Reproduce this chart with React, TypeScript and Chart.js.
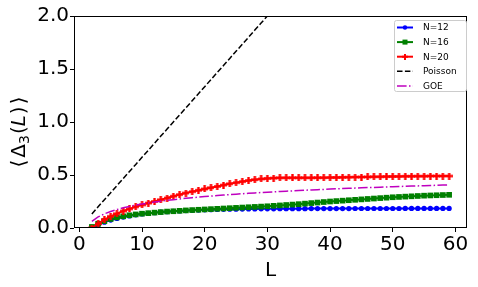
import React, { useEffect, useRef } from 'react';
import { Chart, registerables } from 'chart.js';
Chart.register(...registerables);

const L_VALUES = [2,3,4,5,6,7,8,9,10,11,12,13,14,15,16,17,18,19,20,21,22,23,24,25,26,27,28,29,30,31,32,33,34,35,36,37,38,39,40,41,42,43,44,45,46,47,48,49,50,51,52,53,54,55,56,57,58,59];
const N12 = [0.0,0.03,0.055,0.075,0.09,0.103,0.114,0.124,0.132,0.139,0.145,0.15,0.154,0.158,0.161,0.164,0.167,0.169,0.171,0.173,0.175,0.176,0.177,0.178,0.179,0.18,0.18,0.181,0.181,0.181,0.182,0.182,0.182,0.182,0.182,0.183,0.183,0.183,0.183,0.183,0.183,0.183,0.184,0.184,0.184,0.184,0.184,0.184,0.184,0.184,0.185,0.185,0.185,0.185,0.185,0.185,0.185,0.185];
const N16 = [0.01,0.04,0.065,0.085,0.1,0.11,0.12,0.128,0.135,0.14,0.145,0.15,0.155,0.158,0.162,0.166,0.169,0.172,0.175,0.178,0.181,0.184,0.187,0.19,0.193,0.196,0.199,0.202,0.205,0.209,0.213,0.217,0.221,0.225,0.23,0.235,0.24,0.245,0.25,0.254,0.258,0.262,0.266,0.27,0.274,0.278,0.282,0.286,0.29,0.293,0.296,0.299,0.302,0.305,0.307,0.309,0.311,0.313];
const N20 = [0.0,0.04,0.08,0.11,0.135,0.16,0.18,0.2,0.218,0.235,0.25,0.267,0.283,0.3,0.315,0.33,0.343,0.356,0.368,0.38,0.392,0.405,0.417,0.428,0.438,0.448,0.456,0.463,0.468,0.471,0.473,0.474,0.474,0.474,0.474,0.474,0.475,0.475,0.476,0.477,0.478,0.479,0.48,0.481,0.482,0.483,0.484,0.485,0.486,0.487,0.488,0.488,0.489,0.489,0.49,0.49,0.49,0.49];
const POISSON = [0.133,0.2,0.267,0.333,0.4,0.467,0.533,0.6,0.667,0.733,0.8,0.867,0.933,1.0,1.067,1.133,1.2,1.267,1.333,1.4,1.467,1.533,1.6,1.667,1.733,1.8,1.867,1.933,2.0,2.067,2.133,2.2,2.267,2.333,2.4,2.467,2.533,2.6,2.667,2.733,2.8,2.867,2.933,3.0,3.067,3.133,3.2,3.267,3.333,3.4,3.467,3.533,3.6,3.667,3.733,3.8,3.867,3.933];
const GOE = [0.0633,0.1044,0.1335,0.1561,0.1746,0.1902,0.2037,0.2157,0.2264,0.236,0.2448,0.2529,0.2604,0.2674,0.274,0.2801,0.2859,0.2914,0.2966,0.3015,0.3062,0.3107,0.3151,0.3192,0.3232,0.327,0.3307,0.3342,0.3377,0.341,0.3442,0.3473,0.3503,0.3533,0.3561,0.3589,0.3616,0.3642,0.3668,0.3693,0.3718,0.3741,0.3765,0.3787,0.381,0.3831,0.3853,0.3874,0.3894,0.3914,0.3934,0.3953,0.3972,0.3991,0.4009,0.4027,0.4045,0.4062];
const X_TICKS = [0, 10, 20, 30, 40, 50, 60];
const Y_TICKS = [0, 0.5, 1.0, 1.5, 2.0];
const SERIES_LABELS = ['N=12', 'N=16', 'N=20', 'Poisson', 'GOE'];

const FONT = '"DejaVu Sans", sans-serif';

function plusImage(size: number, arm: number, color: string) {
  const c = document.createElement('canvas');
  c.width = size;
  c.height = size;
  const g = c.getContext('2d')!;
  g.fillStyle = color;
  const a = (size - arm) / 2;
  g.fillRect(a, 0, arm, size);
  g.fillRect(0, a, size, arm);
  return c;
}

const toPts = (ys: number[]) => L_VALUES.map((x, i) => ({ x, y: ys[i] }));

export default function App() {
  const ref = useRef<HTMLCanvasElement>(null);
  useEffect(() => {
    const canvas = ref.current!;
    const plus = plusImage(7, 2.4, '#ff0000');
    const plusSmall = plusImage(6, 2, '#ff0000');

    const framePlugin = {
      id: 'frame',
      afterDatasetsDraw(chart: any) {
        const { ctx, chartArea: a } = chart;
        ctx.save();
        ctx.strokeStyle = '#000';
        ctx.lineWidth = 1;
        ctx.strokeRect(a.left + 0.5, a.top + 0.5, a.right - a.left - 1, a.bottom - a.top - 1);
        ctx.restore();
      },
      afterDraw(chart: any) {
        const { ctx, chartArea: a } = chart;
        ctx.save();
        // legend
        const bx = 394, by = 20, bw = 72, bh = 71;
        ctx.fillStyle = 'rgba(255,255,255,0.85)';
        ctx.strokeStyle = '#cccccc';
        ctx.lineWidth = 1;
        ctx.beginPath();
        (ctx as any).roundRect(bx + 0.5, by + 0.5, bw, bh, 2);
        ctx.fill();
        ctx.stroke();
        chart.data.datasets.forEach((ds: any, i: number) => {
          const y = 27.5 + i * 14.6;
          ctx.save();
          ctx.strokeStyle = ds.borderColor;
          ctx.lineWidth = ds.borderWidth;
          ctx.setLineDash(ds.borderDash || []);
          ctx.beginPath();
          ctx.moveTo(397, y);
          ctx.lineTo(413, y);
          ctx.stroke();
          ctx.restore();
          ctx.fillStyle = ds.borderColor;
          if (i === 0) {
            ctx.beginPath();
            ctx.arc(405, y, 2.2, 0, Math.PI * 2);
            ctx.fill();
          } else if (i === 1) {
            ctx.fillRect(402.5, y - 2.5, 5, 5);
          } else if (i === 2) {
            ctx.drawImage(plusSmall, 405 - 3, y - 3);
          }
          ctx.fillStyle = '#000';
          ctx.font = '9px ' + FONT;
          ctx.textBaseline = 'middle';
          ctx.textAlign = 'left';
          ctx.fillText(ds.label, 423, y + 0.5);
        });
        // x title
        ctx.fillStyle = '#000';
        ctx.font = '20px ' + FONT;
        ctx.textAlign = 'center';
        ctx.textBaseline = 'alphabetic';
        ctx.fillText('L', (a.left + a.right) / 2, 276);
        // y title
        ctx.translate(25, 132);
        ctx.rotate(-Math.PI / 2);
        const parts = [
          { t: '⟨', f: '20px ' + FONT, dy: 0, gap: 2 },
          { t: 'Δ', f: '20px ' + FONT, dy: 0, gap: 0 },
          { t: '3', f: '14px ' + FONT, dy: 4, gap: 1 },
          { t: '(', f: '20px ' + FONT, dy: 0, gap: 0 },
          { t: 'L', f: 'italic 20px ' + FONT, dy: 0, gap: 1 },
          { t: ')', f: '20px ' + FONT, dy: 0, gap: 2 },
          { t: '⟩', f: '20px ' + FONT, dy: 0, gap: 0 },
        ];
        let total = 0;
        parts.forEach(p => { ctx.font = p.f; total += ctx.measureText(p.t).width + p.gap; });
        let x = -total / 2;
        ctx.textAlign = 'left';
        parts.forEach(p => {
          ctx.font = p.f;
          ctx.fillText(p.t, x, p.dy);
          x += ctx.measureText(p.t).width + p.gap;
        });
        ctx.restore();
      },
    };

    const chart = new Chart(canvas, {
      type: 'line',
      data: {
        datasets: [
          { label: SERIES_LABELS[0], data: toPts(N12), borderColor: '#0000ff', backgroundColor: '#0000ff', borderWidth: 2, pointStyle: 'circle', pointRadius: 2.6, pointBorderWidth: 0, order: 5 },
          { label: SERIES_LABELS[1], data: toPts(N16), borderColor: '#008000', backgroundColor: '#008000', borderWidth: 2, pointStyle: 'rect', pointRadius: 4, pointBorderWidth: 0, order: 4 },
          { label: SERIES_LABELS[2], data: toPts(N20), borderColor: '#ff0000', backgroundColor: '#ff0000', borderWidth: 2, pointStyle: plus as any, pointRadius: 3.5, pointBorderWidth: 0, order: 3 },
          { label: SERIES_LABELS[3], data: toPts(POISSON), borderColor: '#000000', backgroundColor: '#000000', borderWidth: 1.5, borderDash: [5.5, 2.4], pointRadius: 0, order: 2 },
          { label: SERIES_LABELS[4], data: toPts(GOE), borderColor: '#bf00bf', backgroundColor: '#bf00bf', borderWidth: 1.5, borderDash: [9.6, 2.4, 1.5, 2.4], pointRadius: 0, order: 1 },
        ],
      },
      options: {
        responsive: false,
        animation: false,
        events: [],
        layout: { padding: { top: 16, right: 11, left: 0, bottom: 0 } },
        plugins: { legend: { display: false }, tooltip: { enabled: false } },
        elements: { line: { tension: 0 } },
        scales: {
          x: {
            type: 'linear',
            min: -0.85,
            max: 61.85,
            afterBuildTicks: (s: any) => { s.ticks = X_TICKS.map(v => ({ value: v })); },
            afterFit: (s: any) => { s.height = 59; },
            grid: { drawOnChartArea: false, drawTicks: true, tickLength: 4, color: '#000', lineWidth: 1 },
            border: { display: false },
            ticks: { color: '#000', font: { family: FONT, size: 20 }, padding: 1, maxRotation: 0, autoSkip: false, callback: (v: any) => String(v) },
          },
          y: {
            type: 'linear',
            min: 0,
            max: 2,
            afterBuildTicks: (s: any) => { s.ticks = Y_TICKS.map(v => ({ value: v })); },
            afterFit: (s: any) => { s.width = 74; },
            grid: { drawOnChartArea: false, drawTicks: true, tickLength: 4, color: '#000', lineWidth: 1 },
            border: { display: false },
            ticks: { color: '#000', font: { family: FONT, size: 20 }, padding: 1, autoSkip: false, callback: (v: any) => Number(v).toFixed(1) },
          },
        },
      },
      plugins: [framePlugin],
    } as any);
    return () => chart.destroy();
  }, []);
  return (
    <div style={{ position: 'fixed', left: 0, top: 0, width: 478, height: 287, background: '#fff' }}>
      <canvas ref={ref} width={478} height={287} style={{ width: 478, height: 287, display: 'block' }} />
    </div>
  );
}
